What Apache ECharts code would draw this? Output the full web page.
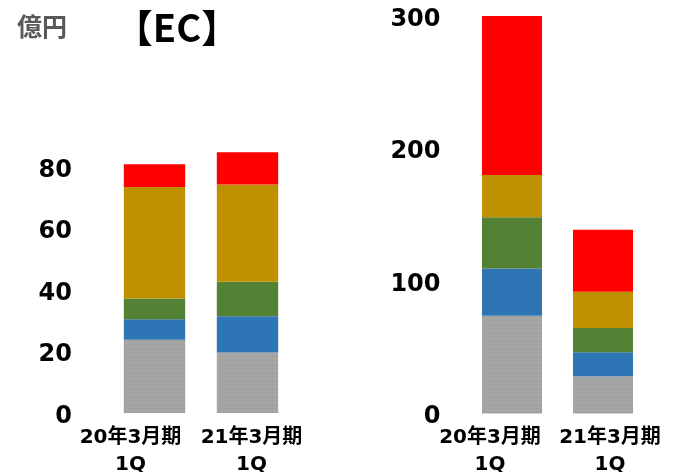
<!DOCTYPE html>
<html>

<head>
    <meta charset="utf-8">
    <title>EC</title>
    <script src="https://cdn.jsdelivr.net/npm/echarts@6/dist/echarts.min.js"></script>
    <style>
        html, body { margin: 0; padding: 0; background: #fff; }
    </style>
</head>

<body>
    <div id="main" style="width: 675px;height:472px;"></div>
    <script type="text/javascript">

        var categories = ['20年3月期\n1Q', '21年3月期\n1Q'];
        // left panel (0-80)
        var leftGray = [23.8, 19.7];
        var leftBlue = [6.7, 11.8];
        var leftGreen = [6.7, 11.2];
        var leftGold = [36.3, 31.6];
        var leftRed = [7.4, 10.5];
        // right panel (0-300)
        var rightGray = [73.7, 28.2];
        var rightBlue = [35.7, 18.1];
        var rightGreen = [38.8, 18.3];
        var rightGold = [31.8, 27.2];
        var rightRed = [120, 46.8];

        var colors = ['#a5a5a5', '#2e75b6', '#548235', '#bf9000', '#ff0000'];
        var latin = 'DejaVu Sans, Noto Sans CJK JP';
        // labels are pushed apart so they don't overlap (padding, per panel)
        var labelPad = [
            [[0, 48, 0, 0], [0, 0, 0, 8]],
            [[0, 44, 0, 0], [0, 0, 0, 14]]
        ];

        var myChart = echarts.init(document.getElementById('main'));

        function makeSeries(idx, arrays) {
            return arrays.map(function (d, i) {
                var style = { color: colors[i] };
                if (i === 0) {
                    // gray segment has a fine dotted texture
                    style.decal = {
                        symbol: 'rect',
                        symbolSize: 1,
                        color: 'rgba(0,0,0,0.1)',
                        dashArrayX: [[1, 3]],
                        dashArrayY: [1, 3]
                    };
                }
                return {
                    type: 'bar',
                    xAxisIndex: idx,
                    yAxisIndex: idx,
                    stack: 'p' + idx,
                    barWidth: '66%',
                    itemStyle: style,
                    data: d
                };
            });
        }

        function xAxisOf(idx) {
            return {
                type: 'category',
                gridIndex: idx,
                data: categories.map(function (c, i) {
                    return { value: c, textStyle: { padding: labelPad[idx][i] } };
                }),
                axisLine: { show: false },
                axisTick: { show: false },
                axisLabel: {
                    color: '#000',
                    fontFamily: latin,
                    fontWeight: 'bold',
                    fontSize: 20,
                    lineHeight: 27,
                    margin: 11,
                    interval: 0
                }
            };
        }

        function yAxisOf(idx, max, interval, margin) {
            return {
                type: 'value',
                gridIndex: idx,
                min: 0,
                max: max,
                interval: interval,
                splitLine: { show: false },
                axisLine: { show: false },
                axisTick: { show: false },
                axisLabel: {
                    margin: margin,
                    showMaxLabel: idx === 1,
                    formatter: '{n|{value}}',
                    rich: {
                        n: {
                            color: '#000',
                            fontFamily: latin,
                            fontWeight: 'bold',
                            fontSize: 24,
                            padding: [7, 0, 0, 0]
                        }
                    }
                }
            };
        }

        var option = {
            backgroundColor: '#fff',
            animation: false,
            title: [{
                text: '億円',
                left: 12,
                top: 9,
                textStyle: { color: '#595959', fontSize: 25, fontWeight: 'bold', fontFamily: 'Noto Sans CJK JP' }
            }, {
                text: '【EC】',
                left: 172,
                top: 4,
                textAlign: 'center',
                textStyle: { color: '#000', fontSize: 38, fontWeight: 'bold', fontFamily: 'Noto Sans CJK JP' }
            }],
            grid: [
                { left: 108, width: 186, top: 105.5, bottom: 59, outerBoundsMode: 'none' },
                { left: 466.5, width: 182, top: 16, bottom: 58.5, outerBoundsMode: 'none' }
            ],
            xAxis: [xAxisOf(0), xAxisOf(1)],
            yAxis: [yAxisOf(0, 100, 20, 36), yAxisOf(1, 300, 100, 26)],
            series: makeSeries(0, [leftGray, leftBlue, leftGreen, leftGold, leftRed])
                .concat(makeSeries(1, [rightGray, rightBlue, rightGreen, rightGold, rightRed]))
        };
        myChart.setOption(option);
    </script>
</body>

</html>
